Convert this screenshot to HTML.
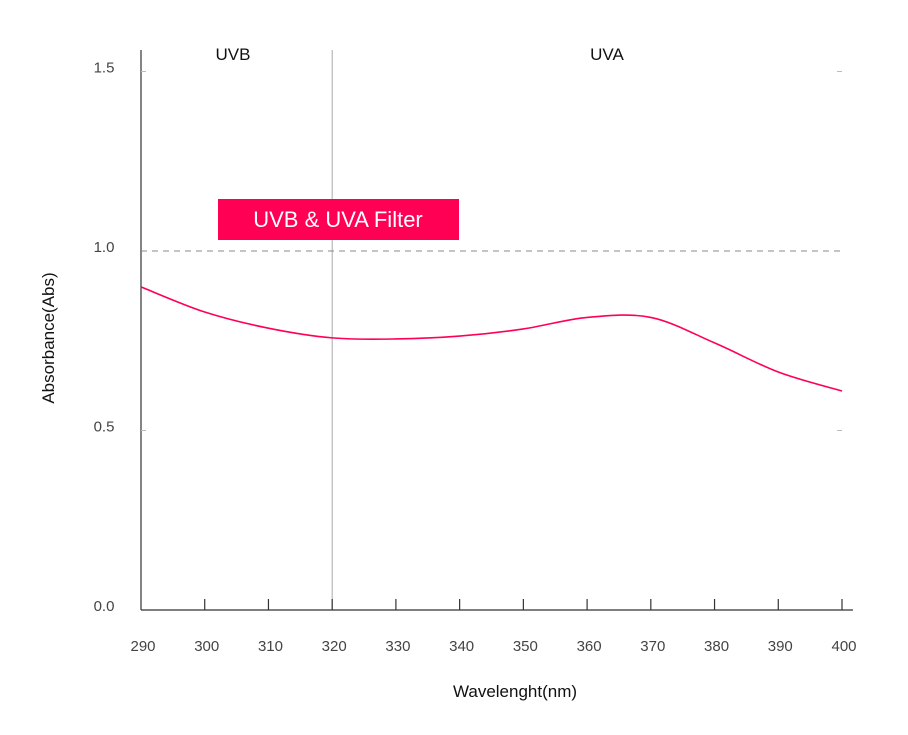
<!DOCTYPE html>
<html><head><meta charset="utf-8"><style>
body{margin:0;background:#fff;}
svg{display:block;font-family:"Liberation Sans",sans-serif;}
</style></head><body>
<svg id="chart" width="908" height="735">
<g id="axes"></g>
<g id="marks"></g>
</svg>
<script>
const wavelengths=[290,300,310,320,330,340,350,360,370,380,390,400];
const absorbance=[0.90,0.83,0.785,0.758,0.755,0.763,0.783,0.815,0.815,0.744,0.663,0.61];
const xTicks=[290,300,310,320,330,340,350,360,370,380,390,400];
const yTicks=[0.0,0.5,1.0,1.5];
const yTickLabels=["0.0","0.5","1.0","1.5"];

const NS="http://www.w3.org/2000/svg";
const X=v=>141+(v-290)*(842-141)/110;
const Y=v=>610-v*359;
const axes=document.getElementById('axes'),marks=document.getElementById('marks');
function mk(tag,attrs,parent,text){const e=document.createElementNS(NS,tag);for(const k in attrs)e.setAttribute(k,attrs[k]);if(text!=null)e.textContent=text;parent.appendChild(e);return e;}

let e;
e=mk('line',{x1:141,y1:50,x2:141,y2:610,stroke:'#333','stroke-width':1.2},axes);


e=mk('line',{x1:141,y1:610,x2:853,y2:610,stroke:'#333','stroke-width':1.2},axes);


e=mk('line',{x1:X(320),y1:50,x2:X(320),y2:610,stroke:'#aaa','stroke-width':1},axes);


e=mk('line',{x1:141,y1:Y(1),x2:842,y2:Y(1),stroke:'#888','stroke-width':1,'stroke-dasharray':'6,5'},axes);



xTicks.forEach(t=>{
  if(t>290){e=mk('line',{x1:X(t),y1:599,x2:X(t),y2:610,stroke:'#333','stroke-width':1.2},axes);
  
  }
  e=mk('text',{x:X(t)+2,y:651,'font-size':15,fill:'#444','text-anchor':'middle'},axes,String(t));
  
  
});
yTicks.forEach((t,i)=>{
  e=mk('text',{x:104,y:Y(t)+1,'font-size':15,fill:'#444','text-anchor':'middle'},axes,yTickLabels[i]);
  
  
  if(t===0.5||t===1.5){
    e=mk('line',{x1:141,y1:Y(t),x2:146,y2:Y(t),stroke:'#bbb'},axes);
    
    
    e=mk('line',{x1:837,y1:Y(t),x2:842,y2:Y(t),stroke:'#bbb'},axes);
    
    
  }
});
e=mk('text',{x:515,y:697,'font-size':17,fill:'#111','text-anchor':'middle'},axes,'Wavelenght(nm)');


e=mk('text',{x:0,y:0,'font-size':17,fill:'#111','text-anchor':'middle',transform:'translate(54,338) rotate(-90)'},axes,'Absorbance(Abs)');


e=mk('text',{x:233,y:60,'font-size':17,fill:'#111','text-anchor':'middle'},axes,'UVB');


e=mk('text',{x:607,y:60,'font-size':17,fill:'#111','text-anchor':'middle'},axes,'UVA');



const pts=wavelengths.map((w,i)=>[X(w),Y(absorbance[i])]);
let d='M'+pts[0][0]+','+pts[0][1];
for(let i=0;i<pts.length-1;i++){
  const p0=pts[Math.max(0,i-1)],p1=pts[i],p2=pts[i+1],p3=pts[Math.min(pts.length-1,i+2)];
  const c1=[p1[0]+(p2[0]-p0[0])/6,p1[1]+(p2[1]-p0[1])/6];
  const c2=[p2[0]-(p3[0]-p1[0])/6,p2[1]-(p3[1]-p1[1])/6];
  d+=` C${c1[0]},${c1[1]} ${c2[0]},${c2[1]} ${p2[0]},${p2[1]}`;
}
e=mk('path',{d:d,fill:'none',stroke:'#ff0055','stroke-width':1.6},marks);



e=mk('rect',{x:218,y:199,width:241,height:41,fill:'#ff0055'},marks);


e=mk('text',{x:338,y:227,'font-size':22,fill:'#fff','text-anchor':'middle'},marks,'UVB & UVA Filter');


</script>
</body></html>
